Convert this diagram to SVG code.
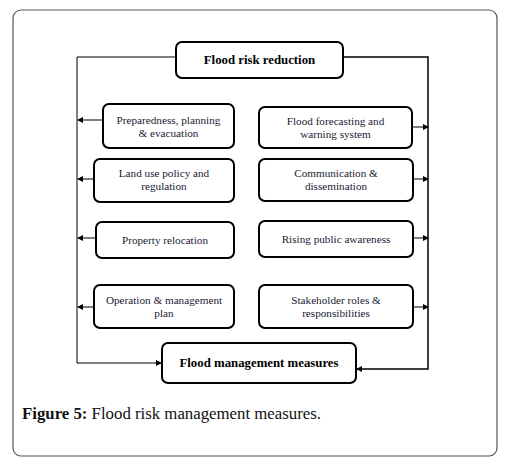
<svg xmlns="http://www.w3.org/2000/svg" width="505" height="464" viewBox="0 0 505 464">
<style>
.frame{fill:#fff;stroke:#555;stroke-width:1.2}
.node{fill:#fff;stroke:#000;stroke-width:2}
.t{font-family:"Liberation Serif",serif;font-size:11.2px;fill:#1a1a33;text-anchor:middle}
.tb{font-family:"Liberation Serif",serif;font-size:12.8px;font-weight:bold;fill:#000;text-anchor:middle}
.cap{font-family:"Liberation Serif",serif;font-size:16.8px;fill:#111}
.c{fill:none;stroke:#000;stroke-width:1}
.c2{fill:none;stroke:#000;stroke-width:1.5}
</style>
<defs>
<marker id="ah" markerWidth="6" markerHeight="6" refX="5" refY="3" orient="auto" markerUnits="userSpaceOnUse">
<path d="M0,0 L6,3 L0,6 Z" fill="#000"/>
</marker>
</defs>
<rect class="frame" x="13" y="10" width="484" height="446" rx="8"/>
<g id="connectors">
<path class="c" d="M176,57 H77 V363 H161" marker-end="url(#ah)"/>
<path class="c2" d="M343,57 H428 V369 H357" marker-end="url(#ah)"/>
<path class="c" d="M103,120 H78" marker-end="url(#ah)"/>
<path class="c" d="M94,179 H78" marker-end="url(#ah)"/>
<path class="c" d="M96,238 H78" marker-end="url(#ah)"/>
<path class="c" d="M94,307 H78" marker-end="url(#ah)"/>
<path class="c" d="M412,127 H428" marker-end="url(#ah)"/>
<path class="c" d="M413,179 H428" marker-end="url(#ah)"/>
<path class="c" d="M413,238 H428" marker-end="url(#ah)"/>
<path class="c" d="M413,307 H428" marker-end="url(#ah)"/>
</g>
<g id="n-top">
<rect class="node" x="176" y="42" width="167" height="36" rx="6"/>
<text class="tb" x="259.5" y="64">Flood risk reduction</text>
</g>
<g id="n-bottom">
<rect class="node" x="162" y="343" width="194" height="40" rx="6"/>
<text class="tb" x="259" y="367">Flood management measures</text>
</g>
<g id="n-l1">
<rect class="node" x="103" y="104" width="131" height="44" rx="6"/>
<text class="t" x="168.5" y="124">Preparedness, planning</text>
<text class="t" x="168.5" y="137">&amp; evacuation</text>
</g>
<g id="n-l2">
<rect class="node" x="94" y="159" width="140" height="43" rx="6"/>
<text class="t" x="164" y="177">Land use policy and</text>
<text class="t" x="164" y="190">regulation</text>
</g>
<g id="n-l3">
<rect class="node" x="96" y="222" width="138" height="36" rx="6"/>
<text class="t" x="165" y="244">Property relocation</text>
</g>
<g id="n-l4">
<rect class="node" x="94" y="285" width="140" height="43" rx="6"/>
<text class="t" x="164" y="304">Operation &amp; management</text>
<text class="t" x="164" y="317">plan</text>
</g>
<g id="n-r1">
<rect class="node" x="259" y="107" width="153" height="41" rx="6"/>
<text class="t" x="335.5" y="125">Flood forecasting and</text>
<text class="t" x="335.5" y="138">warning system</text>
</g>
<g id="n-r2">
<rect class="node" x="259" y="159" width="154" height="42" rx="6"/>
<text class="t" x="336" y="177">Communication &amp;</text>
<text class="t" x="336" y="190">dissemination</text>
</g>
<g id="n-r3">
<rect class="node" x="259" y="221" width="154" height="36" rx="6"/>
<text class="t" x="336" y="243">Rising public awareness</text>
</g>
<g id="n-r4">
<rect class="node" x="259" y="285" width="154" height="43" rx="6"/>
<text class="t" x="336" y="304">Stakeholder roles &amp;</text>
<text class="t" x="336" y="317">responsibilities</text>
</g>
<text class="cap" x="22" y="419"><tspan font-weight="bold">Figure 5:</tspan> Flood risk management measures.</text>
</svg>
